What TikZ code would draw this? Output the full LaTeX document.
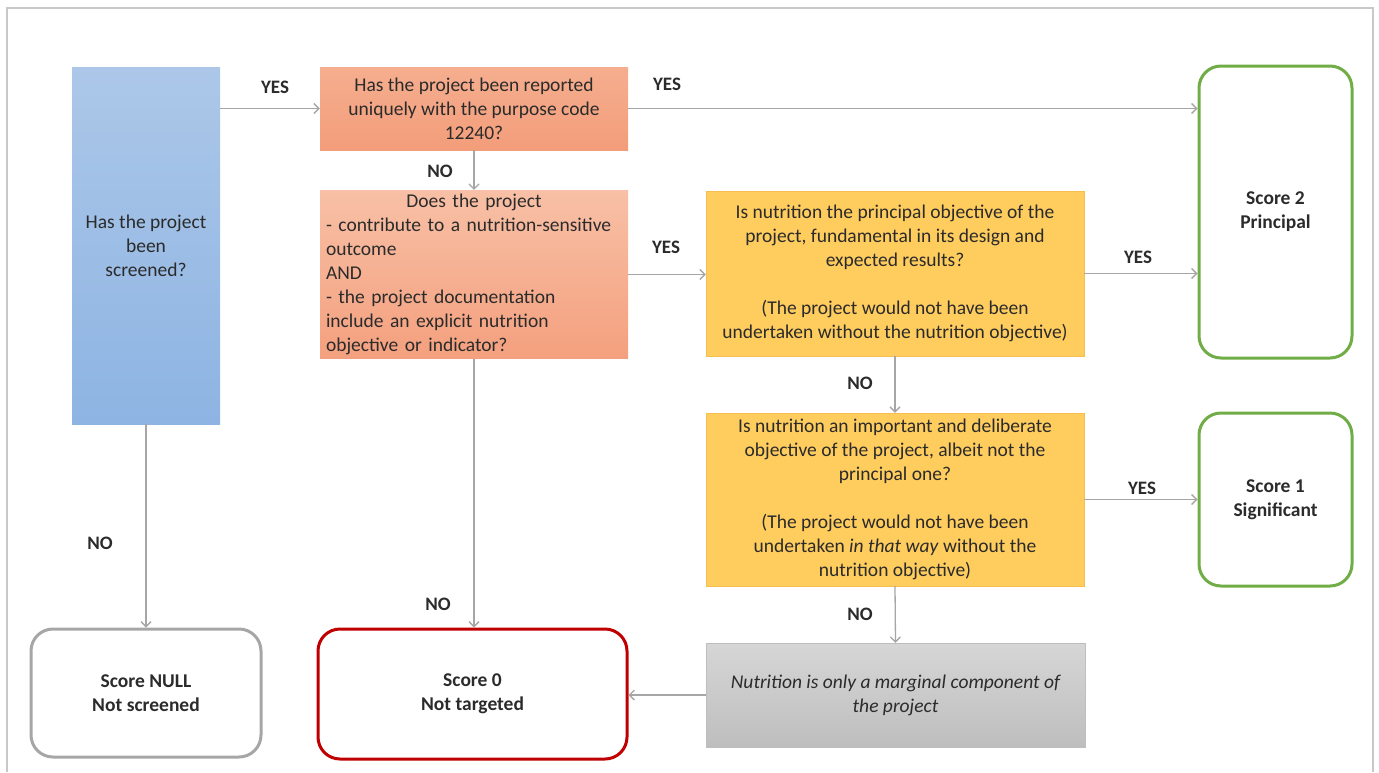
\documentclass[tikz,border=0pt]{standalone}
\usepackage{fontspec}
\setmainfont{Carlito}
\usetikzlibrary{arrows.meta}
\definecolor{linegray}{HTML}{A6A6A6}
\definecolor{framegray}{HTML}{C8C8C8}
\definecolor{okgreen}{HTML}{70AD47}
\definecolor{nored}{HTML}{C00000}
\definecolor{txt}{HTML}{2B2B2B}
\tikzset{
  box/.style={inner sep=4pt, align=center, text=txt, font=\fontsize{19.5}{24}\selectfont},
  score/.style={box, draw=#1, line width=3pt, rounded corners=22pt, font=\fontsize{19.5}{24}\selectfont\bfseries},
  flow/.style={draw=linegray, line width=1.3pt, -{Straight Barb[length=5pt,width=10pt]}},
  ans/.style={font=\fontsize{19}{22}\selectfont\bfseries, text=txt},
}

\begin{document}
\begin{tikzpicture}[x=1pt,y=-1pt]
    \useasboundingbox (0,0) rectangle (1379,772);
    \draw[framegray, line width=1.5pt] (7,772) |- (1373,8) -- (1373,772);

    \node[box, minimum width=148, minimum height=357, top color={rgb,255:red,172;green,199;blue,232}, bottom color={rgb,255:red,141;green,180;blue,227}] (screen) at (146,245.5)
      {Has the project\\been\\screened?};
    \node[box, minimum width=308, minimum height=83, top color={rgb,255:red,245;green,174;blue,143}, bottom color={rgb,255:red,243;green,157;blue,122}] (unique) at (474,108.5)
      {Has the project been reported\\uniquely with the purpose code\\12240?};
    \node[box, align=left, text width=296, minimum width=308, minimum height=167, top color={rgb,255:red,248;green,192;blue,166}, bottom color={rgb,255:red,244;green,160;blue,126}] (sensitive) at (474,274.5)
      {\makebox[\linewidth]{Does the project}\\- contribute to a nutrition-sensitive\\outcome\\AND\\- the project documentation\\include an explicit nutrition\\objective or indicator?};
    \node[box, minimum width=378, minimum height=165, fill={rgb,255:red,255;green,204;blue,94}, draw={rgb,255:red,246;green,190;blue,80}] (principal) at (895,273.5)
      {Is nutrition the principal objective of the\\project, fundamental in its design and\\expected results?\\[24pt](The project would not have been\\undertaken without the nutrition objective)};
    \node[box, minimum width=378, minimum height=173, fill={rgb,255:red,255;green,204;blue,94}, draw={rgb,255:red,246;green,190;blue,80}] (significant) at (895,499.5)
      {Is nutrition an important and deliberate\\objective of the project, albeit not the\\principal one?\\[24pt](The project would not have been\\undertaken \textit{in that way} without the\\nutrition objective)};
    \node[box, minimum width=379, minimum height=104, top color={rgb,255:red,214;green,214;blue,214}, bottom color={rgb,255:red,190;green,190;blue,190}, draw={rgb,255:red,190;green,190;blue,190}, font=\fontsize{19.5}{24}\selectfont\itshape] (marginal) at (895.5,695)
      {Nutrition is only a marginal component of\\the project};

    \node[score=okgreen, minimum width=153, minimum height=292] (score2) at (1275.5,212) {Score 2\\Principal};
    \node[score=okgreen, minimum width=153, minimum height=173] (score1) at (1275.5,499.5) {Score 1\\Significant};
    \node[score=linegray, minimum width=230, minimum height=128] (scorenull) at (146,693) {Score NULL\\Not screened};
    \node[score=nored, minimum width=309, minimum height=130] (score0) at (472.5,694) {Score 0\\Not targeted};

    \draw[flow] (screen.east |- unique.west) -- (unique.west);
    \draw[flow] (unique.east) -- (unique.east -| score2.west);
    \draw[flow] (unique.south) -- (sensitive.north);
    \draw[flow] (sensitive.east) -- (sensitive.east -| principal.west);
    \draw[flow] (principal.east) -- (principal.east -| score2.west);
    \draw[flow] (principal.south) -- (significant.north);
    \draw[flow] (significant.east) -- (score1.west);
    \draw[flow] (significant.south) -- (marginal.north);
    \draw[flow] (marginal.west) -- (marginal.west -| score0.east);
    \draw[flow] (sensitive.south) -- (sensitive.south |- score0.north);
    \draw[flow] (screen.south) -- (scorenull.north);

    \node[ans] (yes1) at (275,87) {YES};
    \node[ans] (yes2) at (667,84) {YES};
    \node[ans] (no1) at (440,171) {NO};
    \node[ans] (yes3) at (666,247) {YES};
    \node[ans] (yes4) at (1138,257) {YES};
    \node[ans] (no2) at (860,383) {NO};
    \node[ans] (yes5) at (1142,488) {YES};
    \node[ans] (no3) at (860,614) {NO};
    \node[ans] (no4) at (438,604) {NO};
    \node[ans] (no5) at (100,543) {NO};
  \end{tikzpicture}
\end{document}
